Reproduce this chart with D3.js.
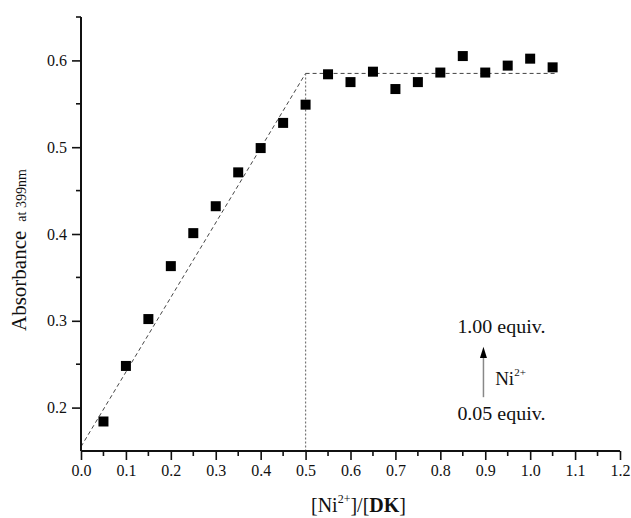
<!DOCTYPE html>
<html>
<head>
<meta charset="utf-8">
<script src="https://cdn.jsdelivr.net/npm/d3@7"></script>
<style>
  html, body { margin: 0; padding: 0; background: #fff; }
  svg { display: block; }
  text { font-family: "Liberation Serif", "Times New Roman", serif; fill: #111; }
</style>
</head>
<body>
<svg id="chart" width="631" height="518"></svg>
<script>
// ---- data ----
const ratio = [0.05, 0.10, 0.15, 0.20, 0.25, 0.30, 0.35, 0.40, 0.45, 0.50, 0.55, 0.60, 0.65, 0.70, 0.75, 0.80, 0.85, 0.90, 0.95, 1.00, 1.05];
const absorbance = [0.184, 0.248, 0.302, 0.363, 0.401, 0.432, 0.471, 0.499, 0.528, 0.549, 0.584, 0.575, 0.587, 0.567, 0.575, 0.586, 0.605, 0.586, 0.594, 0.602, 0.592];
const riseLine = [[0, 0.155], [0.5, 0.585]];
const plateauLine = [[0.5, 0.585], [1.06, 0.585]];
const dropLine = [[0.5, 0.585], [0.5, 0.15]];
const xTicks = [0.0, 0.1, 0.2, 0.3, 0.4, 0.5, 0.6, 0.7, 0.8, 0.9, 1.0, 1.1, 1.2];
const yTicks = [0.2, 0.3, 0.4, 0.5, 0.6];
const xMinor = [0.05, 0.15, 0.25, 0.35, 0.45, 0.55, 0.65, 0.75, 0.85, 0.95, 1.05, 1.15];
const yMinor = [0.25, 0.35, 0.45, 0.55, 0.65];

const svg = d3.select("#chart");
const x = d3.scaleLinear().domain([0, 1.2]).range([81, 620]);
const y = d3.scaleLinear().domain([0.15, 0.65]).range([451, 17]);

// fit lines
const line = d3.line().x(d => x(d[0])).y(d => y(d[1]));
svg.append("path").attr("d", line(riseLine)).attr("fill", "none")
  .attr("stroke", "#444").attr("stroke-width", 1).attr("stroke-dasharray", "4,3");
svg.append("path").attr("d", line(plateauLine)).attr("fill", "none")
  .attr("stroke", "#444").attr("stroke-width", 1).attr("stroke-dasharray", "4,3");
svg.append("path").attr("d", line(dropLine)).attr("fill", "none")
  .attr("stroke", "#777").attr("stroke-width", 1.2).attr("stroke-dasharray", "2,2");

// axes
const xAxis = d3.axisBottom(x).tickValues(xTicks).tickFormat(d3.format(".1f")).tickSize(9).tickSizeOuter(0).tickPadding(5);
const yAxis = d3.axisLeft(y).tickValues(yTicks).tickFormat(d3.format(".1f")).tickSize(9).tickSizeOuter(0).tickPadding(5);
const gx = svg.append("g").attr("transform", `translate(0,${y(0.15)})`).call(xAxis);
const gy = svg.append("g").attr("transform", `translate(${x(0)},0)`).call(yAxis);
gx.append("g").selectAll("line").data(xMinor).join("line")
  .attr("x1", d => x(d)).attr("x2", d => x(d)).attr("y1", 0).attr("y2", 5)
  .attr("stroke", "#111").attr("stroke-width", 1.6);
gy.append("g").selectAll("line").data(yMinor).join("line")
  .attr("y1", d => y(d)).attr("y2", d => y(d)).attr("x1", 0).attr("x2", -5)
  .attr("stroke", "#111").attr("stroke-width", 1.6);
[gx, gy].forEach(g => {
  g.select(".domain").attr("stroke", "#111").attr("stroke-width", 2);
  g.selectAll(".tick line").attr("stroke", "#111").attr("stroke-width", 1.6);
  g.selectAll(".tick text").attr("font-family", "Liberation Serif, serif").attr("font-size", 16).attr("fill", "#222");
});
gx.select(".domain").attr("d", `M${x(0)},0H${x(1.2)}`);
gy.select(".domain").attr("d", `M0,${y(0.15)}V${y(0.65)}`);

// points
svg.append("g").selectAll("rect").data(ratio.map((r, i) => [r, absorbance[i]])).join("rect")
  .attr("x", d => x(d[0]) - 5).attr("y", d => y(d[1]) - 5)
  .attr("width", 10).attr("height", 10).attr("fill", "#000");

// axis titles
const yl = svg.append("text").attr("transform", "translate(26,331) rotate(-90)");
yl.append("tspan").attr("font-size", 21).text("Absorbance");
yl.append("tspan").attr("font-size", 14).attr("dx", 9).text("at 399nm");

const xl = svg.append("text").attr("x", 311).attr("y", 512).attr("font-size", 20);
xl.append("tspan").text("[Ni");
xl.append("tspan").attr("font-size", 12).attr("dy", -9).text("2+");
xl.append("tspan").attr("dy", 9).text("]/[");
xl.append("tspan").attr("font-weight", "bold").text("DK");
xl.append("tspan").text("]");

// annotation
const annX = 0.896;
svg.append("line").attr("x1", x(annX)).attr("x2", x(annX))
  .attr("y1", y(0.212)).attr("y2", y(0.258))
  .attr("stroke", "#888").attr("stroke-width", 1.5);
svg.append("path")
  .attr("d", `M${x(annX)},${y(0.270)}L${x(annX) + 3.5},${y(0.257)}L${x(annX) - 3.5},${y(0.257)}Z`)
  .attr("fill", "#000");
svg.append("text").attr("x", x(0.838)).attr("y", y(0.286)).attr("font-size", 19)
  .attr("textLength", 88).attr("lengthAdjust", "spacingAndGlyphs").text("1.00 equiv.");
svg.append("text").attr("x", x(0.838)).attr("y", y(0.186)).attr("font-size", 19)
  .attr("textLength", 88).attr("lengthAdjust", "spacingAndGlyphs").text("0.05 equiv.");
const ni = svg.append("text").attr("x", x(0.922)).attr("y", y(0.226)).attr("font-size", 19);
ni.append("tspan").text("Ni");
ni.append("tspan").attr("font-size", 11).attr("dy", -9).text("2+");
</script>
</body>
</html>
